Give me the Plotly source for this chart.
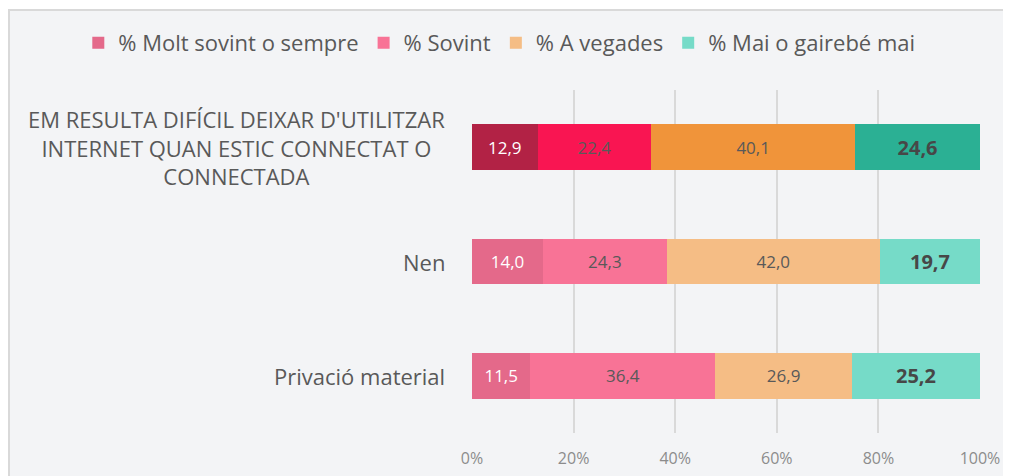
import plotly.graph_objects as go

# DATA (bottom to top)
categories = ["Privació material", "Nen",
              "EM RESULTA DIFÍCIL DEIXAR D'UTILITZAR<br>INTERNET QUAN ESTIC CONNECTAT O<br>CONNECTADA"]
series = ["% Molt sovint o sempre", "% Sovint", "% A vegades", "% Mai o gairebé mai"]
molt_sovint = [11.5, 14.0, 12.9]
sovint = [36.4, 24.3, 22.4]
a_vegades = [26.9, 42.0, 40.1]
mai = [25.2, 19.7, 24.6]
values = [molt_sovint, sovint, a_vegades, mai]
tick_vals = [0, 20, 40, 60, 80, 100]
tick_text = ["0%", "20%", "40%", "60%", "80%", "100%"]

# COLOURS (top row is highlighted with darker shades)
light = ["#E4698A", "#F87396", "#F5BD85", "#76DBC8"]
dark = ["#B22245", "#F91552", "#F0943A", "#2BB094"]
text_col = ["#FFFFFF", "#595959", "#595959", "#474747"]

FONT = "Open Sans"

fig = go.Figure()
for i, name in enumerate(series):
    last = i == len(series) - 1
    fig.add_trace(go.Bar(
        y=categories, x=values[i], name=name, orientation="h", width=0.4,
        marker=dict(color=[light[i], light[i], dark[i]], line=dict(width=0)),
        texttemplate="<b>%{x:.1f}</b>" if last else "%{x:.1f}",
        textposition="inside", insidetextanchor="middle",
        textfont=dict(family=FONT, size=20 if last else 17, color=text_col[i]),
        cliponaxis=False,
    ))

# category labels (centred multi-line text, like the original)
for c in categories:
    fig.add_annotation(x=0, xref="paper", y=c, yref="y", text=c, showarrow=False,
                       xanchor="right", align="center", xshift=-25,
                       font=dict(family=FONT, size=22, color="#595959"))

# frame (grey panel with border) - page body has an 8px offset
fig.add_shape(type="rect", xref="paper", yref="paper", x0=-0.9114, x1=1.2, y0=-0.3, y1=1.2332,
              fillcolor="#F3F4F6", line=dict(color="#D9D9D9", width=2), layer="below")

# LAYOUT
fig.update_layout(
    width=1003, height=468,
    margin=dict(l=464, r=31, t=82, b=43, autoexpand=False),
    barmode="stack", separators=",.",
    paper_bgcolor="white", plot_bgcolor="rgba(0,0,0,0)",
    font=dict(family=FONT, color="#595959"),
    showlegend=True,
    legend=dict(orientation="h", x=-0.775, y=1.137, xanchor="left", yanchor="middle",
                font=dict(family=FONT, size=22, color="#595959"),
                bgcolor="rgba(0,0,0,0)", itemwidth=30, traceorder="normal"),
    xaxis=dict(range=[0, 100], tickvals=tick_vals, ticktext=tick_text, showgrid=True,
               gridcolor="#D9D9D9", gridwidth=2, zeroline=False, showline=False,
               tickfont=dict(family=FONT, size=16, color="#8C8C8C"), ticklen=0,
               ticklabelstandoff=14),
    yaxis=dict(autorange=False, range=[-0.5, 2.5], showticklabels=False, showgrid=False,
               zeroline=False),
)

fig.write_html("out.html")
